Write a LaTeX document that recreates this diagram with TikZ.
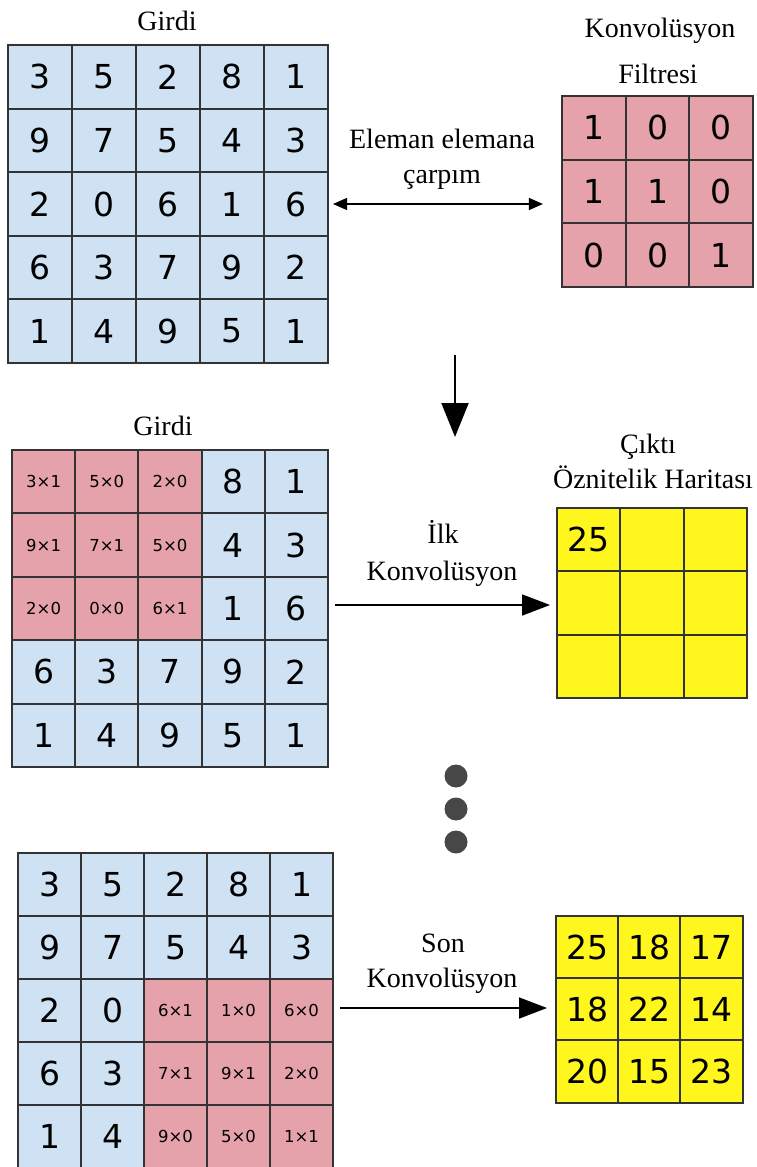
\documentclass[tikz,border=0pt]{standalone}
\usepackage{fontspec}
\setmainfont{Liberation Serif}
\newfontfamily\numfont{DejaVu Sans}
\usepackage{xcolor}
\usetikzlibrary{arrows.meta, positioning}
\definecolor{inblue}{HTML}{CFE2F3}
\definecolor{filtpink}{HTML}{E6A2AB}
\definecolor{outyellow}{HTML}{FFF61E}
\definecolor{gridline}{HTML}{333333}
\definecolor{dotgray}{HTML}{474747}

\begin{document}
\begin{tikzpicture}[
    x=1pt, y=-1pt,
    lbl/.style={anchor=base, inner sep=0pt, font=\fontsize{28}{31}\selectfont},
    cell/.style={draw=gridline, line width=1.9pt, inner sep=0pt, outer sep=0pt,
      font=\numfont\fontsize{33}{36}\selectfont},
    b/.style={cell, fill=inblue},
    p/.style={cell, fill=filtpink, font=\numfont\fontsize{16.5}{18}\selectfont},
    filt/.style={cell, fill=filtpink},
    outc/.style={cell, fill=outyellow},
    arr/.style={-{Triangle[length=28pt, width=21pt]}, line width=1.6pt},
    bigarr/.style={-{Triangle[length=34pt, width=27pt]}, line width=2pt},
    dbl/.style={{Triangle[length=14pt, width=12pt]}-{Triangle[length=14pt, width=12pt]}, line width=1.2pt}
  ]
  \useasboundingbox (0,0) rectangle (757,1167);

  % input
  \node[lbl] (girdi1) at (167,30) {Girdi};
  \foreach \v [count=\k from 0] in {3,5,2,8,1,9,7,5,4,3,2,0,6,1,6,6,3,7,9,2,1,4,9,5,1} {
    \pgfmathtruncatemacro\ri{\k/5}\pgfmathtruncatemacro\ci{mod(\k,5)}
    \node[b, minimum width=64pt, minimum height=63.6pt] (g-\ri-\ci) at (40+64*\ci, 76.8+63.6*\ri) {\v};
  }

  % filter
  \node[lbl] (konv) at (660,37) {Konvolüsyon};
  \node[lbl] (filtresi) at (658,83) {Filtresi};
  \foreach \v [count=\k from 0] in {1,0,0,1,1,0,0,0,1} {
    \pgfmathtruncatemacro\ri{\k/3}\pgfmathtruncatemacro\ci{mod(\k,3)}
    \node[filt, minimum size=63.7pt] (f-\ri-\ci) at (593.8+63.7*\ci, 127.8+63.7*\ri) {\v};
  }

  \node[lbl] (eleman) at (442,148) {Eleman elemana};
  \node[lbl] (carpim) at (442,183) {çarpım};
  \coordinate (dblL) at ([xshift=5pt]g-2-4.east);
  \draw[dbl] (dblL) -- ([xshift=-19pt]dblL -| f-1-0.west);

  \coordinate (downS) at (455,355);
  \coordinate (downE) at (455,437);
  \draw[bigarr] (downS) -- (downE);

  % first convolution
  \node[lbl] (girdi2) at (163,435) {Girdi};
  \foreach \s/\v [count=\k from 0] in {p/3×1,p/5×0,p/2×0,b/8,b/1,
      p/9×1,p/7×1,p/5×0,b/4,b/3,
      p/2×0,p/0×0,p/6×1,b/1,b/6,
      b/6,b/3,b/7,b/9,b/2,
      b/1,b/4,b/9,b/5,b/1} {
    \pgfmathtruncatemacro\ri{\k/5}\pgfmathtruncatemacro\ci{mod(\k,5)}
    \node[\s, minimum width=63.2pt, minimum height=63.4pt] (m-\ri-\ci) at (43.6+63.2*\ci, 481.7+63.4*\ri) {\v};
  }

  \node[lbl] (cikti) at (648,453) {Çıktı};
  \node[lbl] (harita) at (653,488) {Öznitelik Haritası};
  \foreach \v [count=\k from 0] in {25,,,,,,,,} {
    \pgfmathtruncatemacro\ri{\k/3}\pgfmathtruncatemacro\ci{mod(\k,3)}
    \node[outc, minimum size=63.3pt] (o-\ri-\ci) at (588.7+63.3*\ci, 539.7+63.3*\ri) {\v};
  }

  \node[lbl] (ilk) at (443,543) {İlk};
  \node[lbl] (ilkkonv) at (442,580) {Konvolüsyon};
  \coordinate (ilkL) at (335,605);
  \draw[arr] (ilkL) -- ([xshift=-7pt]ilkL -| o-1-0.west);

  % dots
  \foreach \y [count=\n] in {776,809,842}
    \fill[dotgray] (456,\y) circle (11.5pt) coordinate (dot\n);

  % last convolution
  \foreach \s/\v [count=\k from 0] in {b/3,b/5,b/2,b/8,b/1,
      b/9,b/7,b/5,b/4,b/3,
      b/2,b/0,p/6×1,p/1×0,p/6×0,
      b/6,b/3,p/7×1,p/9×1,p/2×0,
      b/1,b/4,p/9×0,p/5×0,p/1×1} {
    \pgfmathtruncatemacro\ri{\k/5}\pgfmathtruncatemacro\ci{mod(\k,5)}
    \node[\s, minimum width=63pt, minimum height=63pt] (s-\ri-\ci) at (49.5+63*\ci, 884.5+63*\ri) {\v};
  }

  \foreach \v [count=\k from 0] in {25,18,17,18,22,14,20,15,23} {
    \pgfmathtruncatemacro\ri{\k/3}\pgfmathtruncatemacro\ci{mod(\k,3)}
    \node[outc, minimum size=62.2pt] (r-\ri-\ci) at (587.1+62.2*\ci, 947.1+62.2*\ri) {\v};
  }

  \node[lbl] (son) at (443,952) {Son};
  \node[lbl] (sonkonv) at (442,987) {Konvolüsyon};
  \coordinate (sonL) at (340,1008);
  \draw[arr] (sonL) -- ([xshift=-9pt]sonL -| r-1-0.west);
\end{tikzpicture}
\end{document}
